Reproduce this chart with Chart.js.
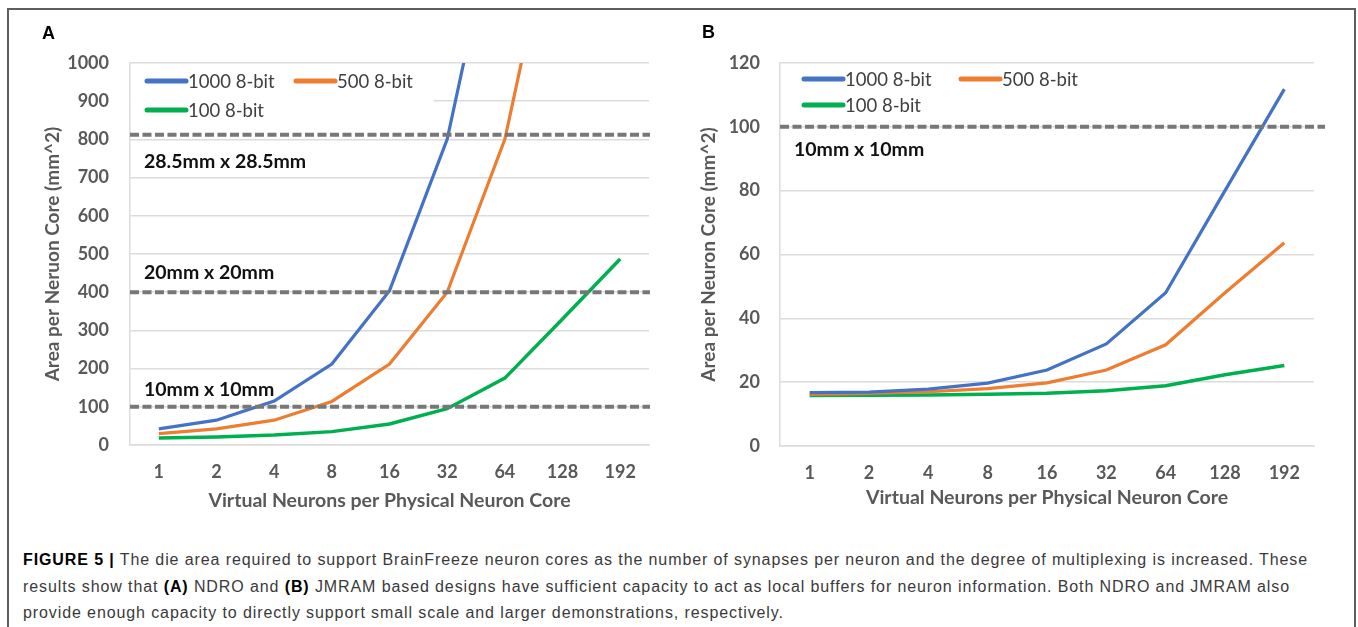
<!DOCTYPE html>
<html>
<head>
<meta charset="utf-8">
<script src="https://cdn.jsdelivr.net/npm/chart.js@4.4.1/dist/chart.umd.min.js"></script>
<style>
    body { margin: 0; background: #fff; width: 1358px; height: 627px; overflow: hidden; position: relative; }
    .frame { position: absolute; left: 7px; top: 8px; width: 1345px; height: 660px; border: 2px solid #5e5e5e; }
    .panel { position: absolute; top: 0; height: 520px; }
    #wrapA { left: 0; width: 680px; }
    #wrapB { left: 680px; width: 678px; }
    .letter { position: absolute; font: bold 18px 'Liberation Sans', Arial, sans-serif; color: #000; }
    .cap { position: absolute; left: 23px; white-space: nowrap; font: 16px/20px 'Liberation Sans', Arial, sans-serif; color: #3a3a3a; }
    .cap b { color: #000; }
</style>
</head>
<body>
<div class="frame"></div>
<div class="panel" id="wrapA"><canvas id="chartA"></canvas></div>
<div class="panel" id="wrapB"><canvas id="chartB"></canvas></div>
<div class="letter" style="left:42px; top:23px">A</div>
<div class="letter" style="left:702px; top:22px">B</div>
<div class="cap" style="top:550px"><b>FIGURE 5 |</b> The die area required to support BrainFreeze neuron cores as the number of synapses per neuron and the degree of multiplexing is increased. These</div>
<div class="cap" style="top:577px">results show that <b>(A)</b> NDRO and <b>(B)</b> JMRAM based designs have sufficient capacity to act as local buffers for neuron information. Both NDRO and JMRAM also</div>
<div class="cap" style="top:603px">provide enough capacity to directly support small scale and larger demonstrations, respectively.</div>
<script>
// virtual neurons per physical neuron core
const multiplex = ['1', '2', '4', '8', '16', '32', '64', '128', '192']

// panel A, NDRO (mm^2)
const ndro1000 = [42, 65, 115, 212, 404, 800, 1500, 3000, 4500]
const ndro500 = [30, 42, 65, 114, 212, 400, 800, 1500, 2250]
const ndro100 = [18, 21, 26, 35, 55, 95, 175, 330, 487]
const ndroDies = [812, 400, 100]
const ndroDieNames = ['28.5mm x 28.5mm', '20mm x 20mm', '10mm x 10mm']

// panel B, JMRAM (mm^2)
const jmram1000 = [16.7, 16.9, 17.8, 19.7, 23.8, 32, 48, 80, 111.8]
const jmram500 = [16.2, 16.5, 17, 18, 19.8, 23.8, 31.7, 48, 63.7]
const jmram100 = [15.8, 15.9, 16, 16.2, 16.5, 17.3, 18.9, 22.3, 25.2]
const jmramDies = [100]
const jmramDieNames = ['10mm x 10mm']

const seriesNames = ['1000 8-bit', '500 8-bit', '100 8-bit']
const colors = { blue: '#4472c4', orange: '#ed7d31', green: '#00b050', grid: '#dcdcdc', text: '#595959' }
const FONT = "Lato, 'Open Sans', sans-serif"

// dashed die-size lines, their names and the legend, drawn inside the plot
const panelDecor = {
    id: 'panelDecor',
    afterDatasetsDraw(chart, args, opts) {
        const { ctx, chartArea } = chart
        const y = chart.scales.y
        ctx.save()
        opts.lines.forEach((value, i) => {
            const py = y.getPixelForValue(value)
            ctx.strokeStyle = '#777777'
            ctx.lineWidth = 4
            ctx.setLineDash([9, 3.5])
            ctx.beginPath()
            ctx.moveTo(chartArea.left, py)
            ctx.lineTo(chartArea.right + opts.overhang, py)
            ctx.stroke()
            ctx.setLineDash([])
            ctx.font = `bold 19.5px ${FONT}`
            ctx.fillStyle = '#111'
            ctx.textAlign = 'left'
            ctx.textBaseline = 'middle'
            ctx.fillText(opts.names[i], chartArea.left + opts.nameX, py + opts.nameDy[i])
        })

        const lg = opts.legend
        ctx.fillStyle = '#fff'
        ctx.fillRect(chartArea.left + 1, chartArea.top + 2, lg.boxWidth, lg.boxHeight)
        ctx.font = `18.5px ${FONT}`
        ctx.textBaseline = 'middle'
        chart.data.datasets.forEach((ds, i) => {
            const item = lg.items[i]
            const x0 = chartArea.left + item.x
            const yy = chartArea.top + lg.rows[item.row]
            ctx.strokeStyle = ds.borderColor
            ctx.lineWidth = 5
            ctx.lineCap = 'round'
            ctx.beginPath()
            ctx.moveTo(x0, yy)
            ctx.lineTo(x0 + 39, yy)
            ctx.stroke()
            ctx.fillStyle = '#404040'
            ctx.fillText(ds.label, x0 + 41, yy + 1)
        })
        ctx.restore()
    }
}

function makeChart(canvasId, values, cfg) {
    const datasets = values.map((data, i) => ({
        label: seriesNames[i],
        data,
        borderColor: [colors.blue, colors.orange, colors.green][i],
        backgroundColor: [colors.blue, colors.orange, colors.green][i],
        borderWidth: i == 2 ? 3.5 : 3.2,
        pointRadius: 0,
        tension: 0,
    }))

    return new Chart(document.getElementById(canvasId), {
        type: 'line',
        data: { labels: multiplex, datasets },
        plugins: [panelDecor],
        options: {
            responsive: true,
            maintainAspectRatio: false,
            animation: false,
            layout: { padding: { left: 0, top: 63, right: cfg.padRight, bottom: 0 } },
            plugins: {
                legend: { display: false },
                tooltip: { enabled: false },
                panelDecor: cfg.decor,
            },
            scales: {
                x: {
                    offset: true,
                    grid: { display: false },
                    border: { display: true, color: colors.grid, width: 1.5 },
                    ticks: { color: colors.text, font: { family: FONT, size: 18, weight: 'bold' }, padding: 8, maxRotation: 0 },
                    title: {
                        display: true,
                        text: 'Virtual Neurons per Physical Neuron Core',
                        color: colors.text,
                        font: { family: FONT, size: 19.5, weight: 'bold' },
                        padding: { top: 0, bottom: cfg.xTitlePad },
                    },
                    afterFit: s => { s.height = cfg.xHeight },
                },
                y: {
                    min: 0,
                    max: cfg.max,
                    grid: { color: colors.grid, lineWidth: 1.5, drawTicks: false },
                    border: { display: true, color: colors.grid, width: 1.5 },
                    ticks: {
                        stepSize: cfg.step,
                        format: { useGrouping: false },
                        color: colors.text,
                        font: { family: FONT, size: 18, weight: 'bold' },
                        padding: cfg.tickPad,
                    },
                    title: {
                        display: true,
                        text: cfg.yTitle,
                        color: colors.text,
                        font: { family: FONT, size: 19, weight: 'bold' },
                        padding: { top: cfg.yTitlePad, bottom: 0 },
                    },
                    afterFit: s => { s.width = cfg.yWidth },
                },
            },
        },
    })
}

makeChart('chartA', [ndro1000, ndro500, ndro100], {
    max: 1000, step: 100, padRight: 31, xHeight: 75, yWidth: 130, tickPad: 21,
    xTitlePad: 8, yTitlePad: 41,
    yTitle: 'Area per Neruon Core (mm^2)',
    decor: {
        lines: ndroDies, names: ndroDieNames, nameX: 14, nameDy: [27, -19, -17], overhang: 1,
        legend: { boxWidth: 303, boxHeight: 58, rows: [18, 47], items: [{ x: 17, row: 0 }, { x: 166, row: 0 }, { x: 17, row: 1 }] },
    },
})

makeChart('chartB', [jmram1000, jmram500, jmram100], {
    max: 120, step: 20, padRight: 44, xHeight: 74, yWidth: 100, tickPad: 20,
    xTitlePad: 11, yTitlePad: 17,
    yTitle: 'Area per Neuron Core (mm^2)',
    decor: {
        lines: jmramDies, names: jmramDieNames, nameX: 14, nameDy: [23], overhang: 11,
        legend: { boxWidth: 310, boxHeight: 55, rows: [16, 42], items: [{ x: 24, row: 0 }, { x: 181, row: 0 }, { x: 24, row: 1 }] },
    },
})

// stretch the caption lines to the width they take in the figure
const capLines = document.querySelectorAll('.cap')
const first = capLines[0]
const spacing = (1285 - first.getBoundingClientRect().width) / first.textContent.length
capLines.forEach(el => { el.style.letterSpacing = spacing + 'px' })
</script>
</body>
</html>
